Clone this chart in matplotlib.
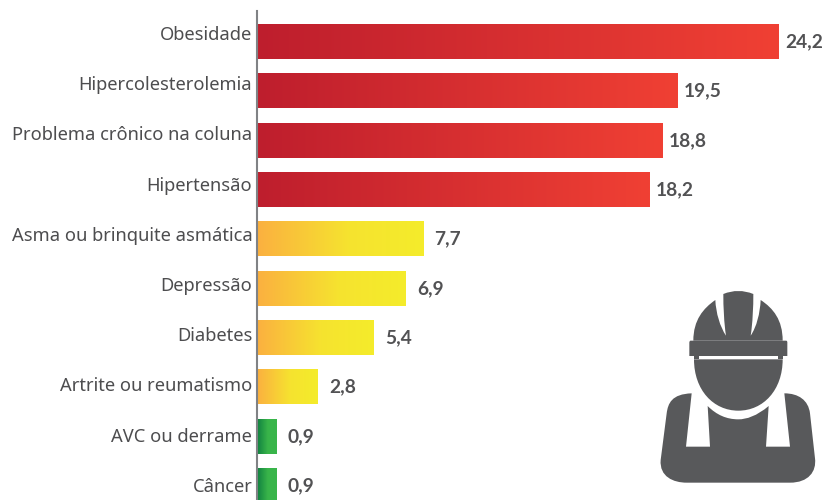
import numpy as np
import matplotlib
matplotlib.use("Agg")
import matplotlib.pyplot as plt
from matplotlib.colors import LinearSegmentedColormap
from matplotlib.path import Path
from matplotlib.patches import PathPatch

categories = ["Obesidade", "Hipercolesterolemia", "Problema crônico na coluna", "Hipertensão",
              "Asma ou brinquite asmática", "Depressão", "Diabetes", "Artrite ou reumatismo",
              "AVC ou derrame", "Câncer"]
values = [24.2, 19.5, 18.8, 18.2, 7.7, 6.9, 5.4, 2.8, 0.9, 0.9]
labels = ["24,2", "19,5", "18,8", "18,2", "7,7", "6,9", "5,4", "2,8", "0,9", "0,9"]
groups = ["r", "r", "r", "r", "y", "y", "y", "y", "g", "g"]

ramps = {"r": [(0, "#BE1E2D"), (1, "#F04034")],
         "y": [(0, "#FBB040"), (0.55, "#F6E32F"), (1, "#F4EC2B")],
         "g": [(0, "#0F8040"), (0.55, "#39B54A"), (1, "#39B54A")]}
TXT = "#4D4D4F"
plt.rcParams["font.family"] = ["Noto Sans", "DejaVu Sans"]

W, H = 822, 500
LEFT = 257
fig = plt.figure(figsize=(W / 100, H / 100), dpi=100)
ax = fig.add_axes([LEFT / W, 0, (W - LEFT) / W, (H - 11) / H])
PX = 21.57
STEP = 49.33

bars = ax.barh(range(len(values)), values, height=35 / STEP, color="none", linewidth=0)
grad = np.linspace(0, 1, 256).reshape(1, -1)
for b, v, g in zip(bars, values, groups):
    cmap = LinearSegmentedColormap.from_list(g, ramps[g])
    y0, y1 = b.get_y(), b.get_y() + b.get_height()
    im = ax.imshow(grad, cmap=cmap, extent=(0, v, y1, y0), aspect="auto", interpolation="bilinear", zorder=2)
    im.set_clip_path(b)

ax.set_xlim(0, (W - LEFT) / PX)
ax.set_ylim((500 - 41.5) / STEP, -(41.5 - 11) / STEP)
# category labels sit on a slightly wider, evenly spaced rhythm than the bars
tick_pos = [(33 + 50.2 * i - 41.5) / STEP for i in range(len(categories))]
ax.set_yticks(tick_pos, categories, fontsize=13.2, color=TXT)
ax.tick_params(axis="y", length=0, pad=3.4)
ax.set_xticks([])
for s in ("top", "right", "bottom"):
    ax.spines[s].set_visible(False)
ax.spines["left"].set_color("#808285")
ax.spines["left"].set_linewidth(1.5)

for i, (v, t, g) in enumerate(zip(values, labels, groups)):
    off = 6 if g == "r" else 11.5
    ax.annotate(t, (v, i), xytext=(off * 0.72, -0.3), textcoords="offset points", va="center", ha="left",
                fontsize=13.8, fontweight="bold", family=["Lato", "DejaVu Sans"], color="#525254", clip_on=False)

# Worker icon (decorative), outline read in zoomed-crop units
M, C, L, Z = Path.MOVETO, Path.CURVE4, Path.LINETO, Path.CLOSEPOLY
def shape(start, segs):
    verts, codes = [start], [M]
    for s in segs:
        if len(s) == 3:
            verts += list(s); codes += [C, C, C]
        else:
            verts += list(s); codes += [L]
    verts.append(start); codes.append(Z)
    return Path([(640 + x / 3, 270 + y / 3) for x, y in verts], codes)

body = shape((155, 370), [
    ((95, 372), (84, 400), (80, 430)), ((62, 570),), ((58, 620), (100, 638), (140, 638)), ((450, 638),),
    ((505, 638), (530, 605), (525, 565)), ((510, 430),), ((505, 390), (475, 370), (433, 370)), ((450, 530),),
    ((378, 530),), ((386, 408),), ((350, 438), (320, 448), (295, 448)), ((260, 448), (230, 435), (203, 408)),
    ((210, 530),), ((138, 530),)])
dome = shape((160, 212), [
    ((160, 150), (190, 115), (226, 90)), ((228, 130), (240, 170), (258, 197)), ((252, 160), (250, 110), (250, 72)),
    ((280, 60), (310, 60), (340, 72)), ((340, 110), (338, 160), (332, 197)), ((350, 170), (360, 130), (362, 90)),
    ((400, 115), (428, 150), (428, 212))])
brim = shape((152, 212), [((438, 212),), ((442, 212), (442, 216), (442, 218)), ((442, 258),), ((148, 258),),
                          ((148, 218),), ((148, 214), (150, 212), (152, 212))])
face = shape((162, 268), [((428, 268),), ((428, 360), (370, 422), (295, 422)), ((220, 422), (162, 360), (162, 268))])
strip = shape((162, 258), [((176, 258),), ((176, 268),), ((162, 268),)])
strip2 = shape((414, 258), [((428, 258),), ((428, 268),), ((414, 268),)])

ov = fig.add_axes([0, 0, 1, 1], facecolor="none")
ov.set_xlim(0, W); ov.set_ylim(H, 0); ov.axis("off")
for p in (body, dome, brim, face, strip, strip2):
    ov.add_patch(PathPatch(p, facecolor="#58595B", edgecolor="none"))

fig.savefig("out.png", dpi=100, facecolor="white")
